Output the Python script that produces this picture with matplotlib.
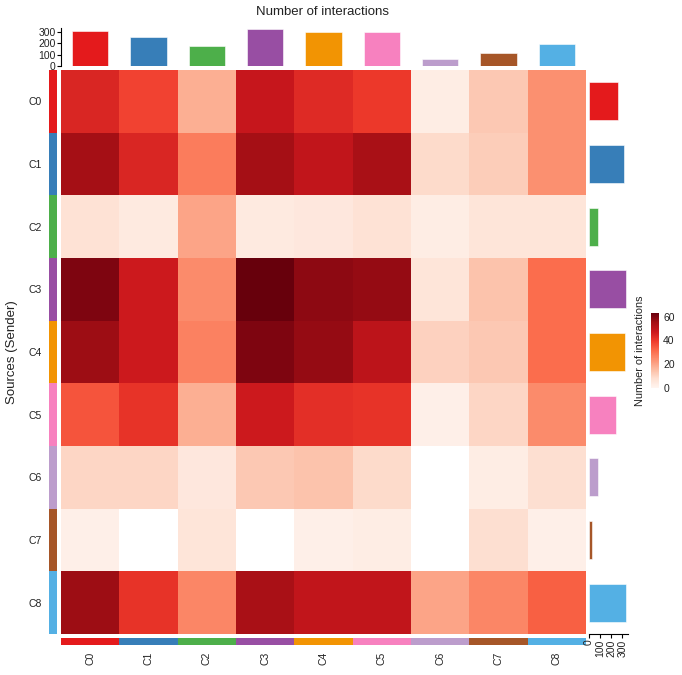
import numpy as np
import matplotlib
matplotlib.use("Agg")
import matplotlib.pyplot as plt

plt.rcParams['font.family'] = ['Liberation Sans', 'DejaVu Sans']

# cluster names and colours
clusters = ["C0", "C1", "C2", "C3", "C4", "C5", "C6", "C7", "C8"]
cluster_colors = ["#E41A1C", "#377EB8", "#4DAF4A", "#984EA3", "#F29403",
                  "#F781BF", "#BC9DCC", "#A65628", "#54B0E4"]

# number of interactions, rows = senders, cols = receivers
counts = np.array([
    [44, 38, 18, 48, 43, 40, 3, 13, 24],
    [55, 44, 28, 55, 49, 54, 9, 12, 24],
    [7, 4, 20, 4, 5, 7, 3, 6, 6],
    [60, 47, 25, 63, 58, 57, 6, 14, 31],
    [56, 47, 27, 60, 57, 50, 11, 13, 31],
    [35, 41, 18, 47, 42, 41, 2, 10, 25],
    [10, 10, 5, 13, 14, 9, 0, 3, 8],
    [2, 0, 6, 0, 2, 3, 0, 8, 2],
    [56, 41, 26, 54, 49, 49, 20, 26, 33],
])

# totals shown in the side bar plots
incoming_totals = [303, 257, 175, 324, 298, 295, 61, 111, 190]   # top bars
outgoing_totals = [258, 312, 78, 330, 324, 243, 78, 30, 336]     # right bars

W, H = 682, 675
fig = plt.figure(figsize=(W / 100, H / 100), dpi=100)


def box(x0, y0, x1, y1):
    # pixel box (from top-left) -> figure fraction rect
    return [x0 / W, 1 - y1 / H, (x1 - x0) / W, (y1 - y0) / H]


n = len(clusters)
cmap = plt.get_cmap("Reds").copy()
cmap.set_bad("white")
txt_col = "#222222"

# main heatmap
ax = fig.add_axes(box(61, 70, 586, 634))
masked = np.ma.masked_where(counts == 0, counts)
im = ax.imshow(masked, cmap=cmap, vmin=0, vmax=63, aspect="auto",
               interpolation="nearest")
ax.set_xticks([])
ax.set_yticks([])
for s in ax.spines.values():
    s.set_visible(False)

# left colour strip with row names
axl = fig.add_axes(box(49, 70, 57, 634))
axl.imshow(np.arange(n).reshape(-1, 1),
           cmap=matplotlib.colors.ListedColormap(cluster_colors),
           aspect="auto", interpolation="nearest")
axl.set_xticks([])
axl.set_yticks(range(n))
axl.set_yticklabels(clusters, fontsize=7.5, color=txt_col)
axl.tick_params(axis="y", length=0, pad=5)
for s in axl.spines.values():
    s.set_visible(False)

# bottom colour strip with column names
axb = fig.add_axes(box(61, 638, 586, 645))
axb.imshow(np.arange(n).reshape(1, -1),
           cmap=matplotlib.colors.ListedColormap(cluster_colors),
           aspect="auto", interpolation="nearest")
axb.set_yticks([])
axb.set_xticks(range(n))
axb.set_xticklabels(clusters, fontsize=7.5, rotation=90, color=txt_col)
axb.tick_params(axis="x", length=0, pad=5)
for s in axb.spines.values():
    s.set_visible(False)

# top bar plot (incoming)
axt = fig.add_axes(box(61, 28, 586, 66))
axt.bar(range(n), incoming_totals, width=0.62, color=cluster_colors,
        edgecolor="white", linewidth=0.4)
axt.set_xlim(-0.5, n - 0.5)
axt.set_ylim(0, 332)
axt.set_yticks([0, 100, 200, 300])
axt.tick_params(axis="y", labelsize=7.5, length=3, width=0.8, pad=1,
                labelcolor=txt_col)
axt.set_xticks([])
for k in ["top", "right", "bottom"]:
    axt.spines[k].set_visible(False)
axt.spines["left"].set_linewidth(0.8)

# right bar plot (outgoing)
axr = fig.add_axes(box(589, 70, 628, 634))
axr.barh(range(n), outgoing_totals, height=0.61, color=cluster_colors,
         edgecolor="white", linewidth=0.4)
axr.set_ylim(n - 0.5, -0.5)
axr.set_xlim(0, 350)
axr.set_xticks([0, 100, 200, 300])
axr.set_xticklabels(["0", "100", "200", "300"], rotation=90)
axr.tick_params(axis="x", labelsize=7.5, length=3, width=0.8, pad=1,
                labelcolor=txt_col)
axr.set_yticks([])
for k in ["top", "right", "left"]:
    axr.spines[k].set_visible(False)
axr.spines["bottom"].set_linewidth(0.8)

# colour legend
axc = fig.add_axes(box(651, 313, 659, 388))
cb = fig.colorbar(im, cax=axc, ticks=[0, 20, 40, 60])
cb.outline.set_visible(False)
axc.tick_params(labelsize=7.5, length=0, pad=3, labelcolor=txt_col)
axc.yaxis.set_label_position("left")
axc.set_ylabel("Number of interactions", fontsize=7.8, labelpad=4,
               color=txt_col)

fig.text(322 / W, 1 - 12 / H, "Number of interactions", fontsize=9.5,
         ha="center", va="center", color=txt_col)
fig.text(12 / W, 1 - 352 / H, "Sources (Sender)", fontsize=9.5,
         rotation=90, ha="center", va="center", color=txt_col)

fig.savefig("out.png", dpi=100)
